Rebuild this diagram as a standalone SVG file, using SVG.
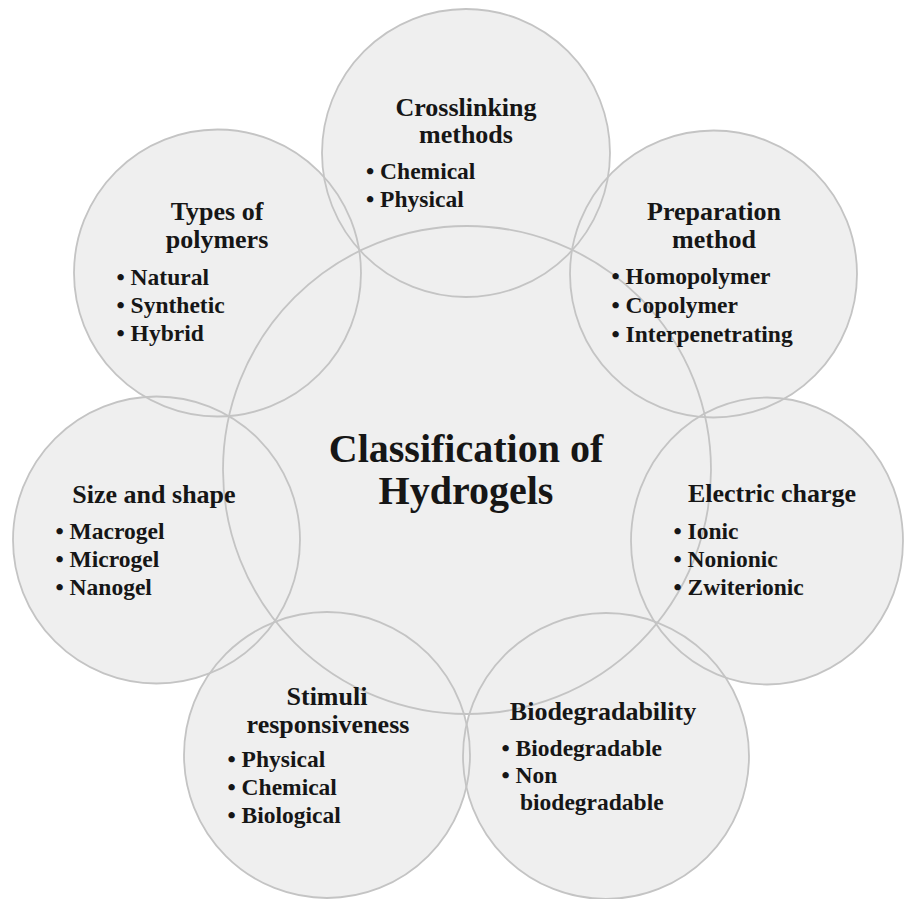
<svg xmlns="http://www.w3.org/2000/svg" width="905" height="899" viewBox="0 0 905 899">
<style>
.bg{fill:#efefef;stroke:none}
.ol{fill:none;stroke:#c4c4c4;stroke-width:1.8}
text{font-family:"Liberation Serif","Times New Roman",serif;font-weight:bold;fill:#161616}
.t{font-size:26px;text-anchor:middle}
.i{font-size:23.5px}
.c{font-size:40px;text-anchor:middle}
</style>
<rect width="905" height="899" fill="#ffffff"/>
<g id="fills">
<circle class="bg" cx="467" cy="470" r="244"/>
<circle class="bg" cx="466" cy="153" r="144"/>
<circle class="bg" cx="217.5" cy="273" r="143.5"/>
<circle class="bg" cx="713.5" cy="274" r="143.5"/>
<circle class="bg" cx="156.5" cy="540" r="143.5"/>
<ellipse class="bg" cx="767" cy="541" rx="136" ry="143.5"/>
<circle class="bg" cx="327" cy="755" r="143"/>
<circle class="bg" cx="606" cy="756" r="143"/>
</g>
<g id="center">
<circle class="ol" cx="467" cy="470" r="244"/>
<text class="c" x="466" y="462">Classification of</text>
<text class="c" x="466" y="504">Hydrogels</text>
</g>
<g id="crosslinking">
<circle class="ol" cx="466" cy="153" r="144"/>
<text class="t" x="466" y="116">Crosslinking</text>
<text class="t" x="466" y="143">methods</text>
<text class="i" x="366" y="179">• Chemical</text>
<text class="i" x="366" y="207">• Physical</text>
</g>
<g id="types">
<circle class="ol" cx="217.5" cy="273" r="143.5"/>
<text class="t" x="217" y="220">Types of</text>
<text class="t" x="217" y="248">polymers</text>
<text class="i" x="116.5" y="285">• Natural</text>
<text class="i" x="116.5" y="313">• Synthetic</text>
<text class="i" x="116.5" y="341">• Hybrid</text>
</g>
<g id="preparation">
<circle class="ol" cx="713.5" cy="274" r="143.5"/>
<text class="t" x="714" y="220">Preparation</text>
<text class="t" x="714" y="248">method</text>
<text class="i" x="611.5" y="284">• Homopolymer</text>
<text class="i" x="611.5" y="313">• Copolymer</text>
<text class="i" x="611.5" y="342">• Interpenetrating</text>
</g>
<g id="size">
<circle class="ol" cx="156.5" cy="540" r="143.5"/>
<text class="t" x="154" y="503">Size and shape</text>
<text class="i" x="55.5" y="539">• Macrogel</text>
<text class="i" x="55.5" y="567">• Microgel</text>
<text class="i" x="55.5" y="595">• Nanogel</text>
</g>
<g id="electric">
<ellipse class="ol" cx="767" cy="541" rx="136" ry="143.5"/>
<text class="t" x="772" y="502">Electric charge</text>
<text class="i" x="673.5" y="539">• Ionic</text>
<text class="i" x="673.5" y="567">• Nonionic</text>
<text class="i" x="673.5" y="595">• Zwiterionic</text>
</g>
<g id="stimuli">
<circle class="ol" cx="327" cy="755" r="143"/>
<text class="t" x="327" y="705">Stimuli</text>
<text class="t" x="328" y="733">responsiveness</text>
<text class="i" x="227.5" y="767">• Physical</text>
<text class="i" x="227.5" y="795">• Chemical</text>
<text class="i" x="227.5" y="823">• Biological</text>
</g>
<g id="biodegradability">
<circle class="ol" cx="606" cy="756" r="143"/>
<text class="t" x="603" y="720">Biodegradability</text>
<text class="i" x="501.5" y="756">• Biodegradable</text>
<text class="i" x="501.5" y="783">• Non</text>
<text class="i" x="520" y="810">biodegradable</text>
</g>
</svg>
